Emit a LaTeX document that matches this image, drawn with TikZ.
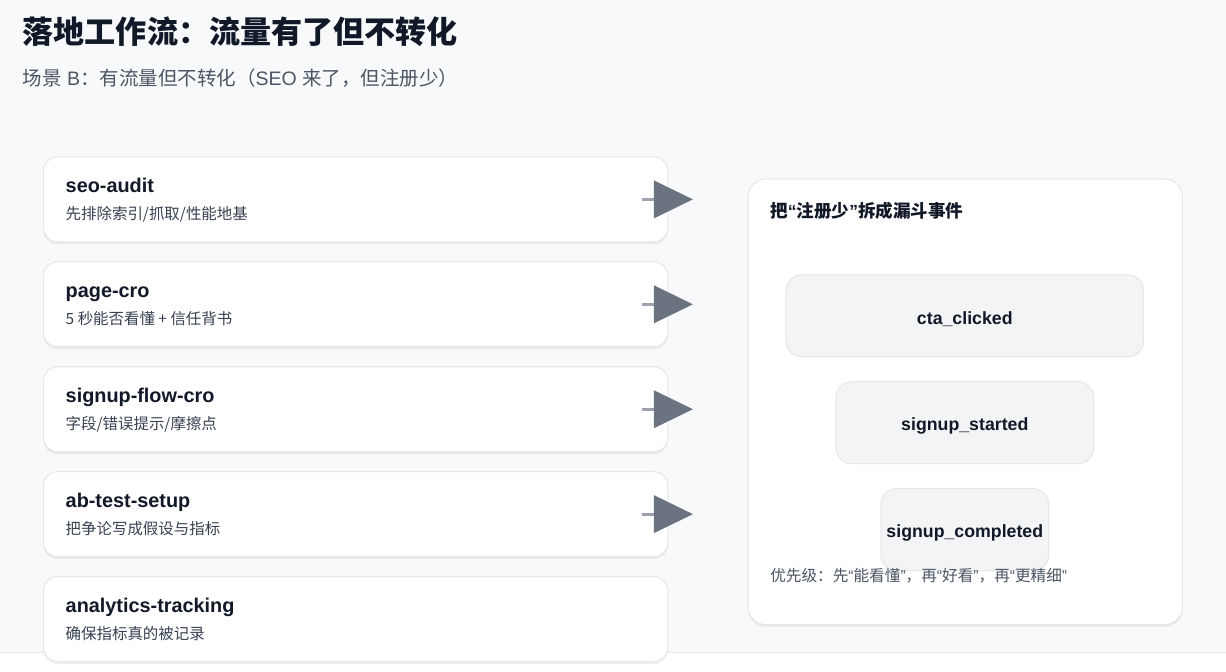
\documentclass[tikz,border=0pt]{standalone}
\usepackage{fontspec}
\setmainfont{Liberation Sans}
\newfontfamily\cjk{Noto Sans CJK SC}
\usepackage{tikz}
\usetikzlibrary{arrows.meta,shadows}
\definecolor{pagebg}{HTML}{F8F9FB}
\definecolor{edge}{HTML}{E5E7EB}
\definecolor{ink}{HTML}{111827}
\definecolor{muted}{HTML}{4B5563}
\definecolor{soft}{HTML}{374151}
\definecolor{tipgray}{HTML}{6B7280}
\definecolor{shaftgray}{HTML}{9CA3AF}
\definecolor{eventfill}{HTML}{F3F4F6}

\begin{document}
\begin{tikzpicture}[x=0.02cm, y=-0.02cm, node distance=2.1cm]
\tikzstyle{card} = [rectangle, draw=edge, line width=0.6pt, fill=white, rounded corners=0.28cm, minimum width=12.5cm, minimum height=1.7cm, inner sep=0pt, outer sep=0pt, drop shadow={shadow xshift=0cm, shadow yshift=-0.05cm, opacity=0.06, fill=black}]
\tikzstyle{cardtitle} = [anchor=base west, inner sep=0pt, text=ink, font=\fontsize{11.3}{13}\selectfont\bfseries]
\tikzstyle{cardnote} = [anchor=base west, inner sep=0pt, text=soft, font=\fontsize{8.8}{10}\selectfont\cjk]
\tikzstyle{arrow} = [line width=0.06cm, shaftgray, -{Triangle[length=0.78cm, width=0.76cm, color=tipgray, line width=0pt]}]
\tikzstyle{panel} = [rectangle, draw=edge, line width=0.6pt, fill=white, rounded corners=0.36cm, minimum width=8.7cm, minimum height=8.92cm, inner sep=0pt, drop shadow={shadow xshift=0cm, shadow yshift=-0.05cm, opacity=0.06, fill=black}]
\tikzstyle{event} = [rectangle, draw=edge, line width=0.6pt, fill=eventfill, rounded corners=0.32cm, minimum height=1.64cm, inner sep=0pt, text height=9.4pt, text depth=0pt, text=ink, font=\fontsize{10.1}{12}\selectfont\bfseries]

\fill [pagebg] (0,0) rectangle (1226,653);
\draw [edge] (0,653) -- (1226,653);
\useasboundingbox (0,0) rectangle (1226,672);

\node [anchor=west, inner sep=0pt, text=ink, font=\fontsize{17.7}{20}\selectfont\cjk\bfseries] (title) at (22,32) {落地工作流：流量有了但不转化};
\node [anchor=west, inner sep=0pt, text=muted, font=\fontsize{11.1}{13}\selectfont] (subtitle) at (22,78) {{\cjk 场景} B{\cjk ：有流量但不转化（}SEO {\cjk 来了，但注册少）}};

\node [card] (seo) at (355.5,199.5) {};
\node [card, below of=seo] (pagecro) {};
\node [card, below of=pagecro] (signup) {};
\node [card, below of=signup] (abtest) {};
\node [card, below of=abtest] (tracking) {};

\node [cardtitle] at ([xshift=0.44cm, yshift=0.13cm]seo.west) {seo-audit};
\node [cardnote] at ([xshift=0.44cm, yshift=-0.4cm]seo.west) {先排除索引/抓取/性能地基};
\node [cardtitle] at ([xshift=0.44cm, yshift=0.13cm]pagecro.west) {page-cro};
\node [cardnote] at ([xshift=0.44cm, yshift=-0.4cm]pagecro.west) {5 秒能否看懂 + 信任背书};
\node [cardtitle] at ([xshift=0.44cm, yshift=0.13cm]signup.west) {signup-flow-cro};
\node [cardnote] at ([xshift=0.44cm, yshift=-0.4cm]signup.west) {字段/错误提示/摩擦点};
\node [cardtitle] at ([xshift=0.44cm, yshift=0.13cm]abtest.west) {ab-test-setup};
\node [cardnote] at ([xshift=0.44cm, yshift=-0.4cm]abtest.west) {把争论写成假设与指标};
\node [cardtitle] at ([xshift=0.44cm, yshift=0.13cm]tracking.west) {analytics-tracking};
\node [cardnote] at ([xshift=0.44cm, yshift=-0.4cm]tracking.west) {确保指标真的被记录};

\draw [arrow] ([xshift=-0.52cm]seo.east) -- ++(1.02cm,0);
\draw [arrow] ([xshift=-0.52cm]pagecro.east) -- ++(1.02cm,0);
\draw [arrow] ([xshift=-0.52cm]signup.east) -- ++(1.02cm,0);
\draw [arrow] ([xshift=-0.52cm]abtest.east) -- ++(1.02cm,0);

\node [panel] (funnel) at (965.5,402) {};
\node [anchor=west, inner sep=0pt, text=ink, font=\fontsize{10}{12}\selectfont\bfseries] (heading) at (770,211) {{\cjk 把}“{\cjk 注册少}”{\cjk 拆成漏斗事件}};

\node [event, minimum width=7.16cm] (cta) at (965,316) {cta\_clicked};
\node [event, minimum width=5.16cm, below of=cta, node distance=2.14cm] (started) {signup\_started};
\node [event, minimum width=3.36cm, below of=started, node distance=2.14cm] (completed) {signup\_completed};

\node [anchor=west, inner sep=0pt, text=muted, font=\fontsize{8.9}{10}\selectfont] (priority) at (770,576) {{\cjk 优先级：先}“{\cjk 能看懂}”{\cjk ，再}“{\cjk 好看}”{\cjk ，再}“{\cjk 更精细}”};
\end{tikzpicture}
\end{document}
